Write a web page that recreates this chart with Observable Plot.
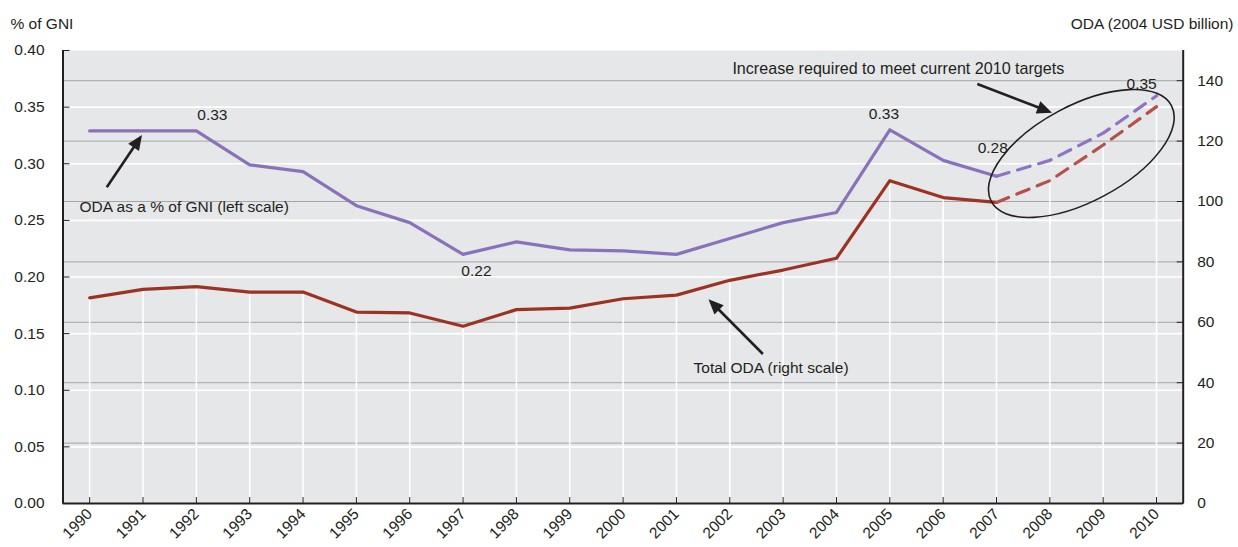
<!DOCTYPE html>
<html><head><meta charset="utf-8">
<script src="https://cdn.jsdelivr.net/npm/d3@7"></script>
<script src="https://cdn.jsdelivr.net/npm/@observablehq/plot@0.6"></script>
<style>
html,body{margin:0;padding:0;background:#fff;}
#chart{width:1238px;height:547px;}
</style></head><body><div id="chart"></div>
<script>
// ---- data ----
const years = [1990,1991,1992,1993,1994,1995,1996,1997,1998,1999,2000,2001,2002,2003,2004,2005,2006,2007,2008,2009,2010];
const gniPct = [0.329,0.329,0.329,0.299,0.293,0.263,0.248,0.220,0.231,0.224,0.223,0.220,0.234,0.248,0.257,0.330,0.303,0.289,0.303,0.327,0.360];
const odaBn  = [68.1,70.9,71.8,70.0,70.0,63.4,63.1,58.7,64.2,64.7,67.8,69.0,73.9,77.3,81.2,106.9,101.3,99.7,106.9,118.7,131.4];
const lastActualYear = 2007;
const leftTicks = [0,0.05,0.10,0.15,0.20,0.25,0.30,0.35,0.40];
const rightTicks = [0,20,40,60,80,100,120,140];
const leftMax = 0.40, rightMax = 150;
const xDomain = [1989.5, 2010.5];
const valueLabels = [
  {year:1992.30, y:0.343, text:"0.33"},
  {year:1997.25, y:0.2057, text:"0.22"},
  {year:2004.89, y:0.3435, text:"0.33"},
  {year:2006.93, y:0.3135, text:"0.28"},
  {year:2009.72, y:0.3706, text:"0.35"}
];
const startNotes = [
  {year:1989.81, y:0.2614, text:"ODA as a % of GNI (left scale)"},
  {year:2001.32, y:0.1192, text:"Total ODA (right scale)"}
];
const middleNotes = [
  {year:2005.16, y:0.3841, text:"Increase required to meet current 2010 targets"}
];
const arrows = [
  {x1:1990.33, y1:0.2788, x2:1990.99, y2:0.3250},
  {x1:2002.63, y1:0.1316, x2:2001.61, y2:0.1799},
  {x1:2006.65, y1:0.3700, x2:2008.05, y2:0.3446}
];
const ellipse = {year:2008.60, y:0.3086, rxYears:1.913, ryYears:0.90, angle:-28};

// ---- build ----
const k = leftMax / rightMax;
const rows = years.map((yr,i)=>({year:yr, gni:gniPct[i], oda:odaBn[i]}));
const actual = rows.filter(d=>d.year<=lastActualYear);
const projected = rows.filter(d=>d.year>=lastActualYear);
const FONT = "Liberation Sans, Arial, sans-serif";
const INK = "#231f20";
const PURPLE = "#8a72bb", PURPLE_D = "#8d74c4", RED = "#9b3324", RED_D = "#b4524a";

const plot = Plot.plot({
  width: 1238, height: 547,
  marginLeft: 62.5, marginRight: 55.3, marginTop: 50, marginBottom: 44,
  style: {fontFamily: FONT, fontSize: "15.5px", color: INK, background: "#fff"},
  x: {domain: xDomain},
  y: {domain: [0, leftMax]},
  marks: [
    Plot.frame({fill: "#e6e7e8", stroke: null}),
    Plot.ruleY(rightTicks.filter(v=>v>0).map(v=>v*k), {stroke: "#a3a5a8", strokeWidth: 1}),
    Plot.ruleY(leftTicks.filter(v=>v>0 && v<leftMax), {stroke: "#fff", strokeWidth: 1.6}),
    Plot.ruleX(rows, {x: "year", y1: 0, y2: d=>d.oda*k, stroke: "#fff", strokeWidth: 1.6}),
    Plot.line(actual, {x: "year", y: "gni", stroke: PURPLE, strokeWidth: 3.2}),
    Plot.line(actual, {x: "year", y: d=>d.oda*k, stroke: RED, strokeWidth: 3.2}),
    Plot.line(projected, {x: "year", y: "gni", stroke: PURPLE_D, strokeWidth: 3.2, strokeDasharray: "13,9"}),
    Plot.line(projected, {x: "year", y: d=>d.oda*k, stroke: RED_D, strokeWidth: 3.2, strokeDasharray: "13,9"}),
    Plot.ruleY([0], {stroke: INK, strokeWidth: 2}),
    Plot.ruleX([xDomain[0]], {stroke: INK, strokeWidth: 2}),
    Plot.ruleX([xDomain[1]], {stroke: INK, strokeWidth: 2}),
    Plot.axisY(leftTicks, {anchor: "left", tickFormat: d=>d.toFixed(2), tickSize: -7, tickPadding: 25.5, label: null, stroke: INK, fill: INK, fontSize: 15.5}),
    Plot.axisY(rightTicks.map(v=>v*k), {anchor: "right", tickFormat: d=>String(Math.round(d/k)), tickSize: -7, tickPadding: 21, label: null, stroke: INK, fill: INK, fontSize: 15.5}),
    Plot.axisX(years, {anchor: "bottom", tickFormat: d=>String(d), tickSize: -6, tickPadding: 14, tickRotate: -45, label: null, stroke: INK, fill: INK, fontSize: 15.5}),
    Plot.text(valueLabels, {x: "year", y: "y", text: "text", fill: INK, fontSize: 15.5}),
    Plot.text(startNotes, {x: "year", y: "y", text: "text", textAnchor: "start", fill: INK, fontSize: 15.5}),
    Plot.text(middleNotes, {x: "year", y: "y", text: "text", textAnchor: "middle", fill: INK, fontSize: 16.1}),
    Plot.text(["% of GNI"], {frameAnchor: "top-left", dx: -52.5, dy: -26, textAnchor: "start", lineAnchor: "middle", fill: INK, fontSize: 15.5}),
    Plot.text(["ODA (2004 USD billion)"], {frameAnchor: "top-right", dx: 50.3, dy: -26, textAnchor: "end", lineAnchor: "middle", fill: INK, fontSize: 15.5})
  ]
});
document.getElementById("chart").appendChild(plot);

// ---- annotation shapes drawn with the plot's own scales ----
const sx = plot.scale("x"), sy = plot.scale("y");
const X = v => sx.apply(v), Y = v => sy.apply(v);
const g = d3.select(plot).append("g").attr("class", "annotations");
for (const a of arrows) {
  const x1 = X(a.x1), y1 = Y(a.y1), x2 = X(a.x2), y2 = Y(a.y2);
  const len = Math.hypot(x2-x1, y2-y1), ux = (x2-x1)/len, uy = (y2-y1)/len;
  const L = 15, W = 6.5;
  const bx = x2 - ux*L, by = y2 - uy*L;
  g.append("line").attr("x1", x1).attr("y1", y1).attr("x2", bx + ux*2).attr("y2", by + uy*2)
    .attr("stroke", INK).attr("stroke-width", 2.6);
  g.append("path").attr("d", `M${x2},${y2}L${bx - uy*W},${by + ux*W}L${bx + uy*W},${by - ux*W}Z`).attr("fill", INK);
}
const pxPerYear = X(2001) - X(2000);
g.append("ellipse")
  .attr("cx", 0).attr("cy", 0)
  .attr("rx", ellipse.rxYears*pxPerYear).attr("ry", ellipse.ryYears*pxPerYear)
  .attr("transform", `translate(${X(ellipse.year)},${Y(ellipse.y)}) rotate(${ellipse.angle})`)
  .attr("fill", "none").attr("stroke", INK).attr("stroke-width", 1.6);
</script></body></html>
